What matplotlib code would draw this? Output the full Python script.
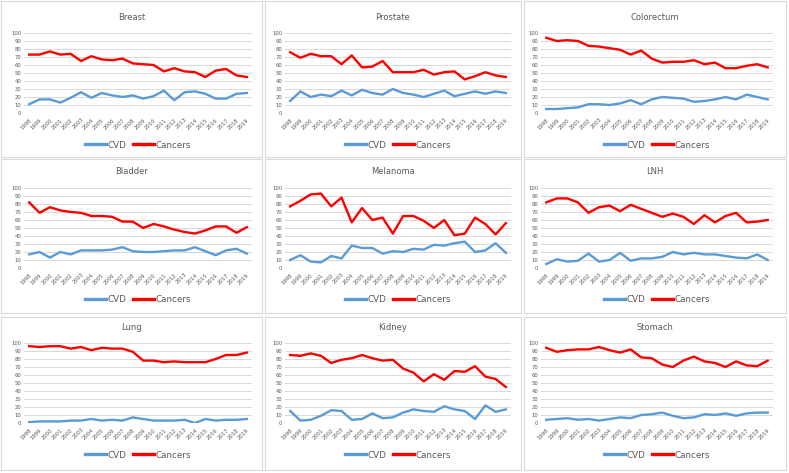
import numpy as np
import matplotlib
matplotlib.use("Agg")
import matplotlib.pyplot as plt
from matplotlib.patches import Rectangle

# ----------------- Data ------------------- #

years = [str(y) for y in range(1998, 2020)]

titles = ["Breast", "Prostate", "Colorectum",
          "Bladder", "Melanoma", "LNH",
          "Lung", "Kidney", "Stomach"]

breast_cvd = [11, 17, 17, 13, 19, 26, 19, 25, 22, 20, 22, 18, 21, 28, 16, 26, 27, 24, 18, 18, 24, 25]
breast_cancers = [73, 73, 77, 73, 74, 65, 71, 67, 66, 68, 62, 61, 60, 52, 56, 52, 51, 45, 53, 55, 47, 45]

prostate_cvd = [15, 27, 20, 23, 21, 28, 22, 29, 25, 23, 30, 25, 23, 20, 24, 28, 21, 24, 27, 24, 27, 25]
prostate_cancers = [76, 69, 74, 71, 71, 61, 72, 57, 58, 65, 51, 51, 51, 54, 48, 51, 52, 42, 46, 51, 47, 45]

colorectum_cvd = [5, 5, 6, 7, 11, 11, 10, 12, 16, 11, 17, 20, 19, 18, 14, 15, 17, 20, 17, 23, 20, 17]
colorectum_cancers = [94, 90, 91, 90, 84, 83, 81, 79, 73, 78, 68, 63, 64, 64, 66, 61, 63, 56, 56, 59, 61, 57]

bladder_cvd = [17, 20, 13, 20, 17, 22, 22, 22, 23, 26, 21, 20, 20, 21, 22, 22, 26, 21, 16, 22, 24, 18]
bladder_cancers = [82, 69, 76, 72, 70, 69, 65, 65, 64, 58, 58, 50, 55, 52, 48, 45, 43, 47, 52, 52, 44, 51]

melanoma_cvd = [10, 16, 8, 7, 15, 12, 28, 25, 25, 18, 21, 20, 24, 23, 29, 28, 31, 33, 20, 22, 31, 19]
melanoma_cancers = [77, 84, 92, 93, 77, 88, 57, 75, 60, 63, 43, 65, 65, 59, 50, 60, 41, 43, 63, 55, 42, 56]

lnh_cvd = [5, 11, 8, 9, 18, 8, 10, 19, 9, 12, 12, 14, 20, 17, 19, 17, 17, 15, 13, 12, 17, 10]
lnh_cancers = [82, 87, 87, 82, 69, 76, 78, 71, 79, 74, 69, 64, 68, 64, 55, 66, 57, 65, 69, 57, 58, 60]

lung_cvd = [1, 2, 2, 2, 3, 3, 5, 3, 4, 3, 7, 5, 3, 3, 3, 4, 0, 5, 3, 4, 4, 5]
lung_cancers = [96, 95, 96, 96, 93, 95, 91, 94, 93, 93, 89, 78, 78, 76, 77, 76, 76, 76, 80, 85, 85, 88]

kidney_cvd = [15, 3, 4, 9, 16, 15, 4, 5, 12, 6, 7, 13, 17, 15, 14, 21, 17, 15, 5, 22, 14, 17]
kidney_cancers = [85, 84, 87, 84, 75, 79, 81, 85, 81, 78, 79, 68, 63, 52, 61, 54, 65, 64, 71, 58, 55, 45]

stomach_cvd = [4, 5, 6, 4, 5, 3, 5, 7, 6, 10, 11, 13, 9, 6, 7, 11, 10, 12, 9, 12, 13, 13]
stomach_cancers = [94, 89, 91, 92, 92, 95, 91, 88, 92, 82, 81, 73, 70, 78, 83, 77, 75, 70, 77, 72, 71, 78]

cvd = [breast_cvd, prostate_cvd, colorectum_cvd,
       bladder_cvd, melanoma_cvd, lnh_cvd,
       lung_cvd, kidney_cvd, stomach_cvd]
cancers = [breast_cancers, prostate_cancers, colorectum_cancers,
           bladder_cancers, melanoma_cancers, lnh_cancers,
           lung_cancers, kidney_cancers, stomach_cancers]

# ---------- Plot ----------------------------- #

W, H = 789, 473
fig = plt.figure(figsize=(W / 100, H / 100), dpi=100)
fig.patch.set_facecolor("white")

text_color = "#595959"
grid_color = "#D9D9D9"
blue = "#5B9BD5"
red = "#FF0000"

# panel boxes (pixels, top-left origin)
box_x = [(1, 262), (265, 521), (524, 786)]
box_y = [(1, 157), (159, 313), (317, 470)]
# plot areas
plot_x = [(24, 252), (285, 511), (541, 773)]
plot_top = [33, 188, 343]
plot_h = 80
title_y = [17, 171, 327]
legend_y = [145, 300, 455]


def fx(x):
    return x / W


def fy(y):
    return 1 - y / H


for idx in range(9):
    row, col = divmod(idx, 3)

    bx0, bx1 = box_x[col]
    by0, by1 = box_y[row]
    fig.patches.append(Rectangle((fx(bx0), fy(by1)), fx(bx1 - bx0), (by1 - by0) / H,
                                 transform=fig.transFigure, facecolor="none",
                                 edgecolor=grid_color, linewidth=0.8, zorder=-1))

    px0, px1 = plot_x[col]
    ax = fig.add_axes([fx(px0), fy(plot_top[row] + plot_h), fx(px1 - px0), plot_h / H])
    ax.set_axisbelow(True)

    x = np.arange(len(years))
    l1, = ax.plot(x, cvd[idx], color=blue, lw=1.7, solid_joinstyle="round", label="CVD")
    l2, = ax.plot(x, cancers[idx], color=red, lw=1.7, solid_joinstyle="round", label="Cancers")

    ax.set_xlim(-0.5, len(years) - 0.5)
    ax.set_ylim(0, 100)
    ax.set_yticks(range(0, 101, 10))
    ax.set_xticks(x)
    ax.set_xticklabels(years, rotation=45, ha="right", rotation_mode="anchor")
    ax.tick_params(axis="both", length=0, labelsize=3.8, colors=text_color, pad=2)
    ax.tick_params(axis="x", pad=3)
    ax.grid(axis="y", color=grid_color, lw=0.7)
    for s in ax.spines.values():
        s.set_visible(False)
    ax.set_facecolor("none")

    cx = (bx0 + bx1) / 2
    fig.text(fx(cx), fy(title_y[row]), titles[idx], ha="center", va="center",
             fontsize=6, color=text_color)

    leg = fig.legend(handles=[l1, l2], loc="center",
                     bbox_to_anchor=(fx((px0 + px1) / 2), fy(legend_y[row])),
                     ncol=2, frameon=False, fontsize=6.3, handlelength=2.4, handletextpad=0.2,
                     columnspacing=0.8, labelcolor=text_color)
    for h in leg.legend_handles:
        h.set_linewidth(2.4)

plt.savefig("out.png", dpi=100)
